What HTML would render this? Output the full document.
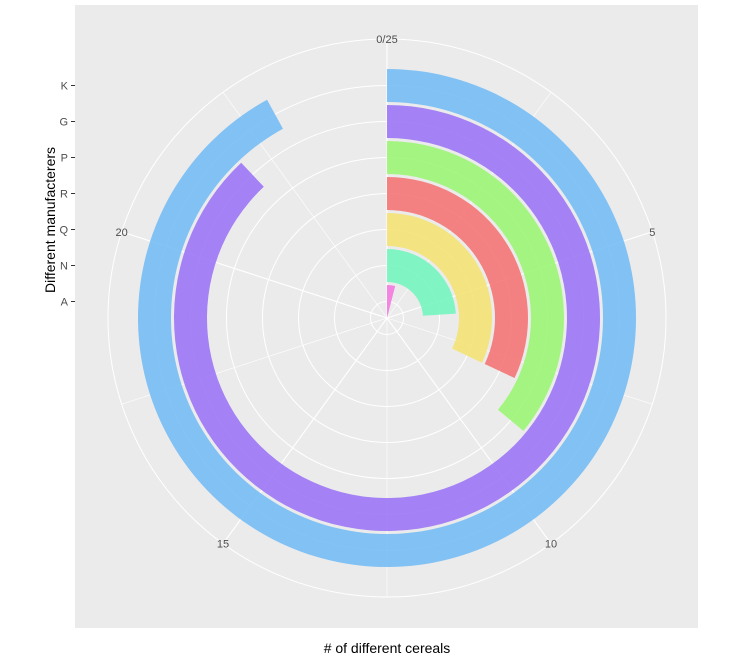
<!DOCTYPE html>
<html><head><meta charset="utf-8"><style>
body{margin:0;background:#fff;}
svg{display:block;font-family:"Liberation Sans",Arial,sans-serif;}
</style></head><body>
<svg id="chart" width="741" height="664">
<rect x="75" y="5" width="623" height="623" fill="#EBEBEB"/>
<g id="grid"></g><g id="bars"></g><g id="labels"></g>
<text x="387" y="653" text-anchor="middle" font-size="14" fill="#000"># of different cereals</text>
<text transform="translate(55,220) rotate(-90)" text-anchor="middle" font-size="14" fill="#000">Different manufacterers</text>
</svg>
<script>
const categories=["A","N","Q","R","P","G","K"];
const counts=[1,6,8,8,9,22,23];
const colors=["#f47ae0","#76f5c0","#f5e276","#f57676","#9cf576","#9c76f5","#76bcf5"];
const thetaTicks=[0,5,10,15,20];
const thetaTickLabels=["0/25","5","10","15","20"];
const thetaMax=25;
const cx=387,cy=318,outerR=279,step=36,r0=16.5,bw=33;
const NS="http://www.w3.org/2000/svg";
function ang(v){return v/thetaMax*2*Math.PI;}
function pt(r,a){return [cx+r*Math.sin(a),cy-r*Math.cos(a)];}
function rOf(i){return r0+step*i;}
function mk(t,p,attrs){const e=document.createElementNS(NS,t);for(const k in attrs)e.setAttribute(k,attrs[k]);p.appendChild(e);return e;}
const grid=document.getElementById('grid');
for(let i=0;i<categories.length;i++){
 const c=mk('circle',grid,{cx:cx,cy:cy,r:rOf(i),fill:'none',stroke:'#fff','stroke-width':1});
 
 
}
const oc=mk('circle',grid,{cx:cx,cy:cy,r:outerR,fill:'none',stroke:'#fff','stroke-width':1});


for(let v=0;v<thetaMax;v+=2.5){
 const p=pt(outerR,ang(v));
 const l=mk('line',grid,{x1:cx,y1:cy,x2:p[0],y2:p[1],stroke:'#fff','stroke-width':v%5===0?1.1:0.6});
 
 
}
const bars=document.getElementById('bars');
counts.forEach((v,i)=>{
 const ri=rOf(i)-bw/2,ro=rOf(i)+bw/2,a=ang(v);
 const large=a>Math.PI?1:0;
 const p1=pt(ro,0),p2=pt(ro,a),p3=pt(ri,a),p4=pt(Math.max(ri,0.01),0);
 const d=`M${p1[0]},${p1[1]} A${ro},${ro} 0 ${large} 1 ${p2[0]},${p2[1]} L${p3[0]},${p3[1]} A${ri},${ri} 0 ${large} 0 ${p4[0]},${p4[1]} Z`;
 const b=mk('path',bars,{d:d,fill:colors[i],'fill-opacity':0.9});
 
 
});
const lab=document.getElementById('labels');
thetaTicks.forEach((v,i)=>{
 const p=pt(outerR,ang(v));
 const t=mk('text',lab,{x:p[0],y:p[1]+4,'text-anchor':'middle','font-size':11,fill:'#4d4d4d'});
 t.textContent=thetaTickLabels[i];
 
 
});
categories.forEach((c,i)=>{
 const y=cy-rOf(i);
 const t=mk('text',lab,{x:68,y:y+4,'text-anchor':'end','font-size':11,fill:'#4d4d4d'});
 t.textContent=c;
 
 
 const tk=mk('line',lab,{x1:71,x2:75,y1:y,y2:y,stroke:'#333','stroke-width':1});
 
 
});
</script>
</body></html>
